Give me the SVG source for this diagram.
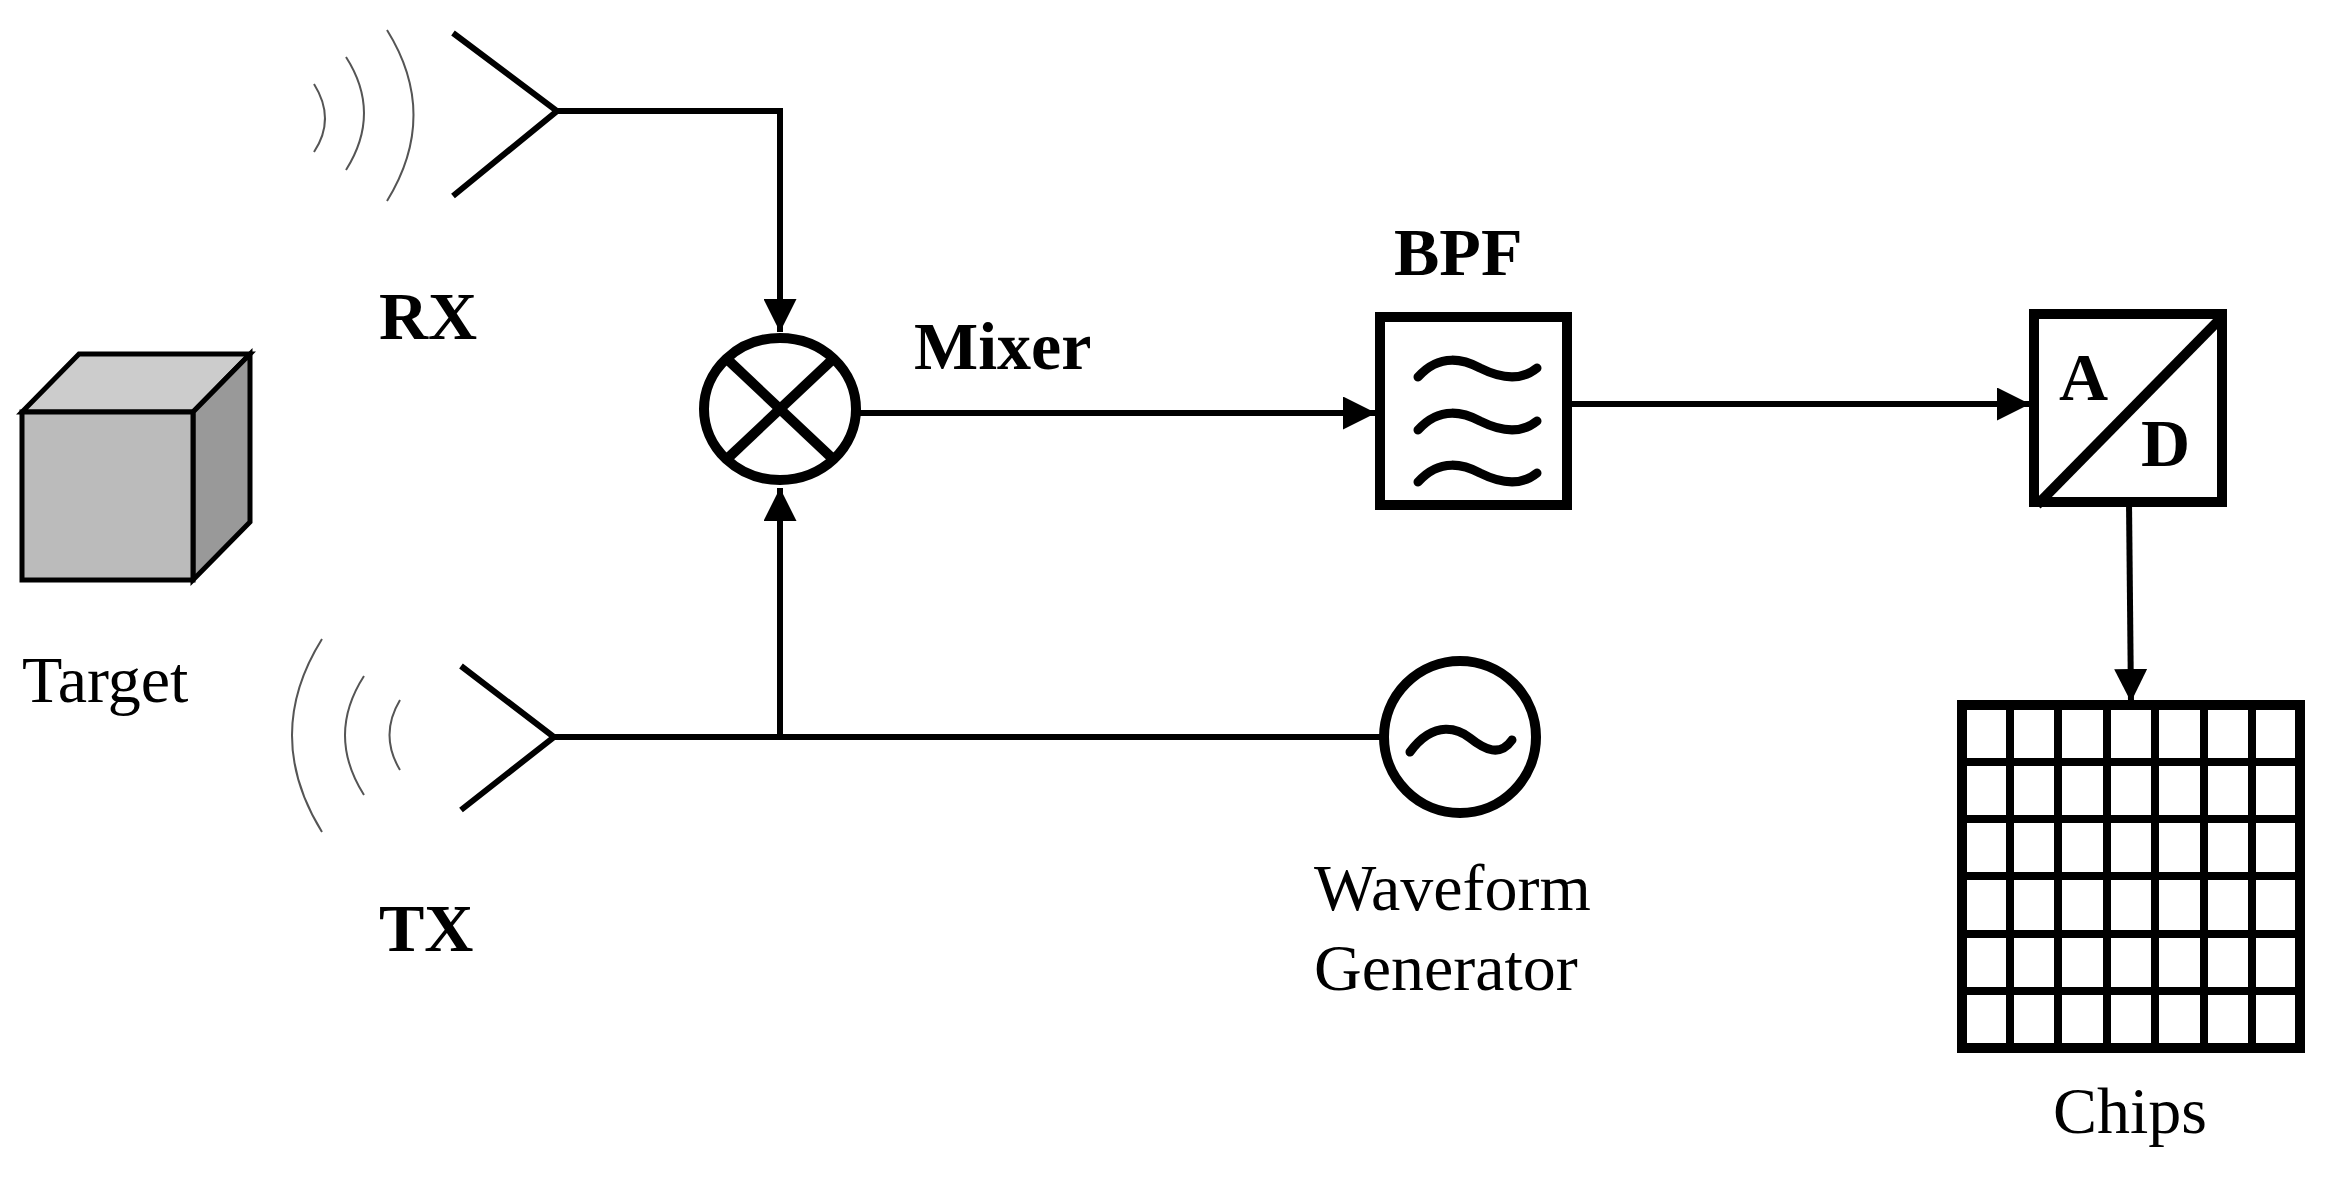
<svg xmlns="http://www.w3.org/2000/svg" width="2331" height="1184" viewBox="0 0 2331 1184">
<defs>
<style>
.ln{stroke:#000;stroke-width:6;fill:none}
.tk{stroke:#000;stroke-width:9;fill:none;stroke-linecap:round}
.gr{stroke:#000;stroke-width:8;fill:none}
.bx{stroke:#000;stroke-width:10;fill:#fff}
.wv{stroke:#555;stroke-width:2;fill:none}
.lb{font-family:"Liberation Serif",serif;font-weight:bold;font-size:68px;fill:#000}
.lr{font-family:"Liberation Serif",serif;font-size:66px;fill:#000}
</style>
<marker id="ah" viewBox="0 0 10 10" refX="10" refY="5" markerWidth="5.5" markerHeight="5.5" orient="auto" markerUnits="strokeWidth"><path d="M0,0L10,5L0,10z" fill="#000"/></marker>
</defs>
<rect width="2331" height="1184" fill="#fff"/>
<g id="connectors">
<polyline class="ln" points="557,111 780,111 780,332" marker-end="url(#ah)"/>
<line class="ln" x1="859" y1="413" x2="1376" y2="413" marker-end="url(#ah)"/>
<line class="ln" x1="1561" y1="404" x2="2030" y2="404" marker-end="url(#ah)"/>
<line class="ln" x1="554" y1="737" x2="1383" y2="737"/>
<line class="ln" x1="780" y1="737" x2="780" y2="488" marker-end="url(#ah)"/>
<line class="ln" x1="2129" y1="502" x2="2131" y2="702" marker-end="url(#ah)"/>
</g>
<g id="target">
<polygon points="22,412 79,354 250,354 193,412" fill="#ccc" stroke="#000" stroke-width="5"/>
<polygon points="193,412 250,354 250,522 193,580" fill="#999" stroke="#000" stroke-width="5"/>
<rect x="22" y="412" width="171" height="168" fill="#bbb" stroke="#000" stroke-width="5"/>
<text class="lr" x="22" y="702">Target</text>
</g>
<g id="rx">
<polyline class="ln" points="453,33 557,111 453,196"/>
<path class="wv" d="M314,84 Q336,119 314,152"/>
<path class="wv" d="M346,57 Q382,113 346,170"/>
<path class="wv" d="M387,30 Q440,115 387,201"/>
<text class="lb" x="379" y="339">RX</text>
</g>
<g id="tx">
<polyline class="ln" points="461,666 554,737 461,810"/>
<path class="wv" d="M400,700 Q379,735 400,770"/>
<path class="wv" d="M364,676 Q326,735 364,795"/>
<path class="wv" d="M322,639 Q262,735 322,832"/>
<text class="lb" x="379" y="951">TX</text>
</g>
<g id="mixer">
<ellipse cx="780" cy="409" rx="76" ry="71" class="bx"/>
<line class="bx" x1="727" y1="359" x2="833" y2="459"/>
<line class="bx" x1="833" y1="359" x2="727" y2="459"/>
<text class="lb" x="914" y="369">Mixer</text>
</g>
<g id="bpf">
<rect class="bx" x="1380" y="317" width="187" height="188"/>
<path class="tk" d="M1418,377 C1440,352 1465,360 1480,368 C1500,378 1520,382 1537,368"/>
<path class="tk" d="M1418,430 C1440,405 1465,413 1480,421 C1500,431 1520,435 1537,421"/>
<path class="tk" d="M1418,482 C1440,457 1465,465 1480,473 C1500,483 1520,487 1537,473"/>
<text class="lb" x="1394" y="275">BPF</text>
</g>
<g id="adc">
<rect class="bx" x="2034" y="314" width="188" height="188"/>
<line class="bx" x1="2037" y1="505" x2="2222" y2="317"/>
<text class="lb" x="2059" y="400">A</text>
<text class="lb" x="2141" y="466">D</text>
</g>
<g id="waveform">
<circle cx="1460" cy="737" r="76" class="bx"/>
<path class="tk" d="M1410,752 C1435,718 1460,730 1470,738 C1485,750 1500,757 1512,740"/>
<text class="lr" x="1314" y="910">Waveform</text>
<text class="lr" x="1314" y="990">Generator</text>
</g>
<g id="chips">
<rect class="bx" x="1962" y="705" width="338" height="343" fill="none"/>
<path class="gr" d="M2010,705V1048M2058,705V1048M2107,705V1048M2155,705V1048M2204,705V1048M2252,705V1048M1962,762H2300M1962,819H2300M1962,876H2300M1962,934H2300M1962,991H2300"/>
<text class="lr" x="2130" y="1133" text-anchor="middle">Chips</text>
</g>
</svg>
